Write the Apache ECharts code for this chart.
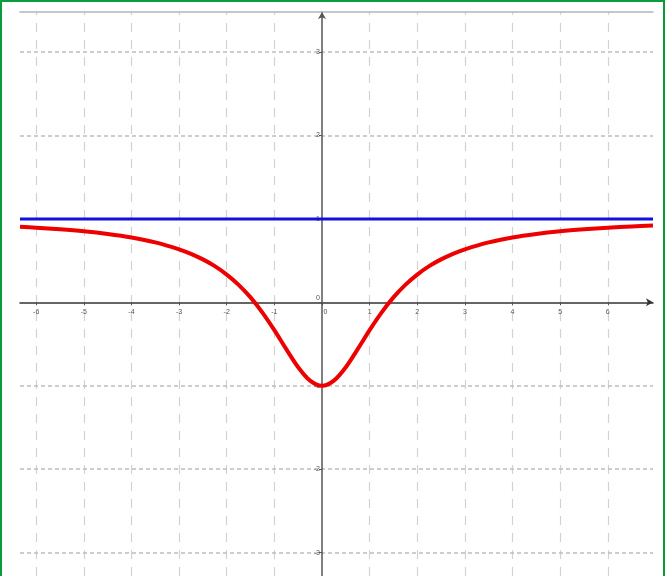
<!DOCTYPE html>
<html>
<head>
<meta charset="utf-8">
<script src="https://cdn.jsdelivr.net/npm/echarts@6/dist/echarts.min.js"></script>
<style>
  html, body { margin: 0; padding: 0; background: #fff; }
  #frame {
    width: 661px; height: 574px;
    border-top: 2px solid #0b9a3c;
    border-left: 2px solid #0b9a3c;
    border-right: 2px solid #0b9a3c;
  }
  #chart { width: 661px; height: 574px; }
</style>
</head>
<body>
<div id="frame"><div id="chart"></div></div>
<script>
// visible window of the plot
const xRange = [-6.34, 6.95];
const yRange = [-3.28, 3.48];

// tick positions / labels
const xTicks = [-6, -5, -4, -3, -2, -1, 0, 1, 2, 3, 4, 5, 6];
const yTicks = [-3, -2, -1, 0, 1, 2, 3];

// red curve
const curveX = [-6.34, -6, -5.5, -5, -4.5, -4, -3.5, -3, -2.75, -2.5, -2.25, -2, -1.75, -1.5, -1.25, -1, -0.75, -0.5, -0.25, 0,
  0.25, 0.5, 0.75, 1, 1.25, 1.5, 1.75, 2, 2.25, 2.5, 2.75, 3, 3.5, 4, 4.5, 5, 5.5, 6, 6.5, 6.95];
const curveY = [0.905, 0.895, 0.876, 0.852, 0.82, 0.778, 0.719, 0.636, 0.582, 0.515, 0.434, 0.333, 0.21, 0.059, -0.123, -0.333, -0.561, -0.778, -0.939, -1,
  -0.939, -0.778, -0.561, -0.333, -0.123, 0.059, 0.21, 0.333, 0.434, 0.515, 0.582, 0.636, 0.719, 0.778, 0.82, 0.852, 0.876, 0.895, 0.91, 0.92];

// blue horizontal line
const blueX = [-6.34, 6.95];
const blueY = [1, 1];

const gridX = xTicks.filter(v => v !== 0);
const gridY = yTicks.filter(v => v !== 0);

const chart = echarts.init(document.getElementById('chart'));

const labelFont = {
  fontSize: 7,
  color: '#555',
  fontFamily: 'Liberation Sans'
};

const option = {
  animation: false,
  grid: { left: 18, right: 10, top: 10, bottom: 0, outerBoundsMode: 'none', containLabel: false },
  xAxis: [
    {
      type: 'value',
      position: 'bottom',
      min: xRange[0],
      max: xRange[1],
      splitLine: { show: false },
      axisLine: {
        onZero: false,
        symbol: ['none', 'arrow'],
        symbolSize: [6, 7],
        lineStyle: { color: '#333', width: 1.5 }
      },
      axisTick: { show: true, customValues: xTicks, length: 3, lineStyle: { color: '#555' } },
      axisLabel: Object.assign({
        customValues: xTicks,
        margin: 6,
        formatter: v => v === 0 ? '{z|0}' : String(v),
        rich: { z: { fontSize: 7, color: '#555', padding: [0, 0, 0, 7] } }
      }, labelFont)
    },
    {
      type: 'value',
      position: 'top',
      min: xRange[0],
      max: xRange[1],
      splitLine: { show: false },
      axisLine: { onZero: false, lineStyle: { color: '#b5b5b5', width: 1.5 } },
      axisTick: { show: false },
      axisLabel: { show: false }
    }
  ],
  yAxis: {
    type: 'value',
    position: 'left',
    min: yRange[0],
    max: yRange[1],
    splitLine: { show: false },
    axisLine: {
      onZero: false,
      symbol: ['none', 'arrow'],
      symbolSize: [6, 7],
      lineStyle: { color: '#555', width: 1.5 }
    },
    axisTick: { show: true, customValues: yTicks, length: 3, lineStyle: { color: '#555' } },
    axisLabel: Object.assign({
      customValues: yTicks,
      margin: 2,
      formatter: v => v === 0 ? '{z|0}' : String(v),
      rich: { z: { fontSize: 7, color: '#555', padding: [0, 0, 9, 0] } }
    }, labelFont)
  },
  series: [
    {
      type: 'line',
      data: [],
      silent: true,
      z: 0,
      markLine: {
        silent: true,
        z: 0,
        symbol: 'none',
        label: { show: false },
        lineStyle: { color: '#d2d2d2', type: [9, 8], width: 1.2 },
        data: gridX.map(v => ({ xAxis: v }))
      }
    },
    {
      type: 'line',
      data: [],
      silent: true,
      z: 0,
      markLine: {
        silent: true,
        z: 0,
        symbol: 'none',
        label: { show: false },
        lineStyle: { color: '#bdbdbd', type: [4, 3], width: 1.5 },
        data: gridY.map(v => ({ yAxis: v }))
      }
    },
    {
      type: 'line',
      z: 5,
      data: blueX.map((x, i) => [x, blueY[i]]),
      showSymbol: false,
      lineStyle: { color: '#1010e0', width: 3 }
    },
    {
      type: 'line',
      z: 6,
      data: curveX.map((x, i) => [x, curveY[i]]),
      smooth: 0.3,
      showSymbol: false,
      lineStyle: { color: '#ee0000', width: 4 }
    }
  ]
};

chart.setOption(option);

// move both axes onto the origin (labels included) using the chart's own scales
const origin = chart.convertToPixel({ gridIndex: 0 }, [0, 0]);
const gridRect = chart.getModel().getComponent('grid', 0).coordinateSystem.getRect();
chart.setOption({
  xAxis: [{ offset: origin[1] - (gridRect.y + gridRect.height) }, {}],
  yAxis: { offset: gridRect.x - origin[0] }
});
</script>
</body>
</html>
